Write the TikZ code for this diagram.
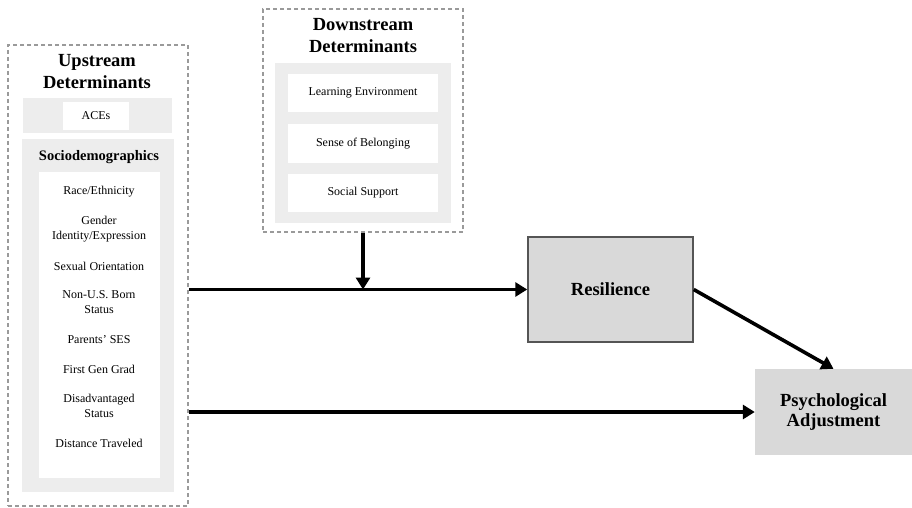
\documentclass[tikz,border=0pt]{standalone}
\usepackage{fontspec}
\setmainfont{Liberation Serif}
\usetikzlibrary{arrows.meta}
\definecolor{bandgray}{HTML}{EDEDED}
\definecolor{boxgray}{HTML}{D9D9D9}
\definecolor{dashgray}{HTML}{9A9A9A}
\definecolor{edgegray}{HTML}{555555}
\tikzset{
  dashbox/.style={draw=dashgray,line width=1.5pt,dash pattern=on 4pt off 3pt,inner sep=0pt},
  band/.style={fill=bandgray,inner sep=0pt},
  whitebox/.style={fill=white,inner sep=0pt,font=\fontsize{12}{15}\selectfont},
  heading/.style={font=\fontsize{18.5}{22}\selectfont\bfseries,align=center,inner sep=0pt},
  item/.style={font=\fontsize{12}{15}\selectfont,align=center,inner sep=0pt},
  outcome/.style={fill=boxgray,inner sep=0pt,font=\fontsize{18.5}{20}\selectfont\bfseries,align=center},
  flow/.style={line width=3.6pt,-{Triangle[length=12pt,width=14pt]}}
}
\begin{document}
\begin{tikzpicture}[x=1pt,y=-1pt]
\useasboundingbox (0,0) rectangle (912,508);
% upstream block
\node[dashbox,minimum width=180pt,minimum height=461pt] (upbox) at (98,275.5) {};
\node[heading] (uptitle) at (97,72) {Upstream\\Determinants};
\node[band,minimum width=149pt,minimum height=35pt] (aceband) at (97.5,115.5) {};
\node[whitebox,minimum width=66pt,minimum height=28pt] (aces) at (96,116) {ACEs};
\node[band,minimum width=152pt,minimum height=353pt] (socband) at (98,315.5) {};
\node[font=\fontsize{14.5}{17}\selectfont\bfseries,inner sep=0pt] (soclabel) at (99,157) {Sociodemographics};
\node[whitebox,minimum width=121pt,minimum height=306pt] (socbox) at (99.5,325) {};
\foreach \yy/\txt [count=\i] in {192/{Race/Ethnicity},229.5/{Gender\\Identity/Expression},
    266/{Sexual Orientation},302.5/{Non-U.S. Born\\Status},340/{Parents’ SES},
    369/{First Gen Grad},406/{Disadvantaged\\Status},443/{Distance Traveled}}
  \node[item] (soc\i) at (99,\yy) {\txt};
% downstream block
\node[dashbox,minimum width=200pt,minimum height=223pt] (downbox) at (363,120.5) {};
\node[heading] (downtitle) at (363,36) {Downstream\\Determinants};
\node[band,minimum width=176pt,minimum height=160pt] (downband) at (363,143) {};
\node[whitebox,minimum width=150pt,minimum height=38pt] (learn) at (363,93) {Learning Environment};
\node[whitebox,minimum width=150pt,minimum height=39pt] (belong) at (363,143.5) {Sense of Belonging};
\node[whitebox,minimum width=150pt,minimum height=38pt] (support) at (363,193) {Social Support};
% outcomes
\node[outcome,draw=edgegray,line width=1.5pt,minimum width=165pt,minimum height=105pt] (res) at (610.5,289.5) {Resilience};
\node[outcome,minimum width=157pt,minimum height=86pt] (psy) at (833.5,412) {Psychological\\Adjustment};
% paths
\draw[flow] (upbox.east |- res.west) -- (res.west);
\draw[flow] (downbox.south) -- (downbox.south |- res.west);
\draw[flow] (res.east) -- (psy.north);
\draw[flow] (upbox.east |- psy.west) -- (psy.west);
\end{tikzpicture}
\end{document}
